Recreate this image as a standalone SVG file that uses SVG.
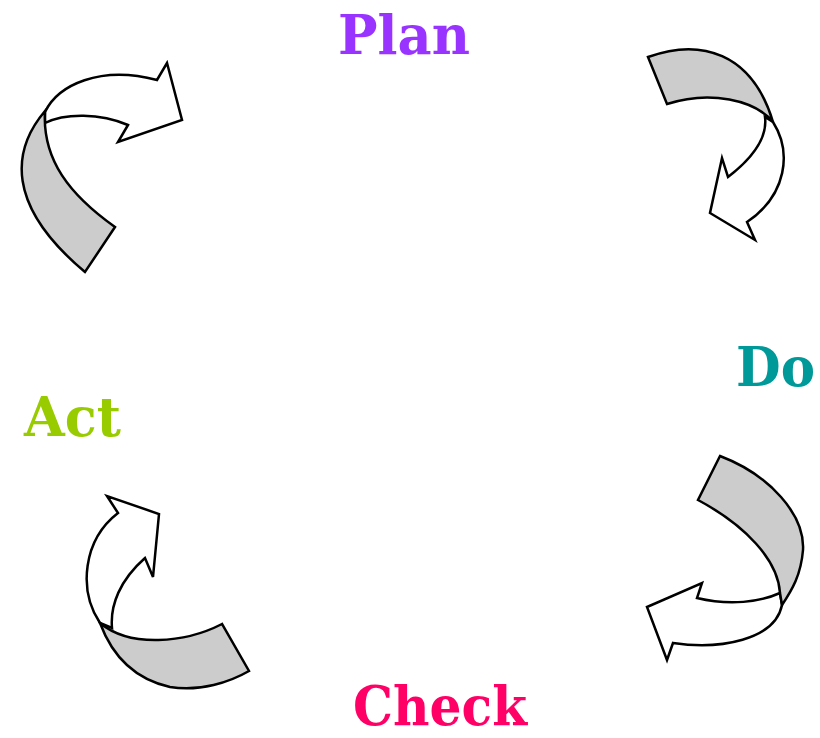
<svg xmlns="http://www.w3.org/2000/svg" width="820" height="738" viewBox="0 0 820 738">
<style>
.w{fill:#ffffff;stroke:#000;stroke-width:2.5;stroke-linejoin:miter}
.g{fill:#cccccc;stroke:#000;stroke-width:2.5;stroke-linejoin:miter}
.t{font-family:"DejaVu Serif","Liberation Serif",serif;font-weight:bold;font-size:54px}
</style>
<rect width="820" height="738" fill="#ffffff"/>
<g id="connectors">
<g id="arrow-act-plan">
<path class="w" d="M45,112 C58,85 100,65 157,80 L167,63 L182,120 L118,142 L128,125 C100,113 65,113 45,123 Z"/>
<path class="g" d="M45,111 C12,150 5,205 85,272 L115,227 C70,195 42,160 45,111 Z"/>
</g>
<g id="arrow-plan-do">
<path class="w" d="M773,122 C792,152 787,195 747,222 L755,240 L710,213 L722,158 L728,177 C750,160 768,140 765,117 Z"/>
<path class="g" d="M648,57 C700,38 752,52 773,122 C755,100 710,90 667,104 Z"/>
</g>
<g id="arrow-do-check">
<path class="w" d="M782,605 C775,640 720,650 673,643 L667,660 L647,607 L702,583 L697,598 C730,606 760,602 780,593 Z"/>
<path class="g" d="M720,456 C770,475 805,515 803,550 C801,575 792,590 782,605 L780,593 C778,560 745,525 698,500 Z"/>
</g>
<g id="arrow-check-act">
<path class="w" d="M100,623 C78,590 83,540 118,513 L107,496 L159,514 L153,577 L145,558 C120,580 110,605 112,628 Z"/>
<path class="g" d="M100,623 C110,650 130,678 170,687 C200,692 230,682 249,671 L222,624 C185,643 130,648 100,623 Z"/>
</g>
</g>
<g id="plan"><text class="t" x="338" y="54" fill="#9933ff" textLength="132" lengthAdjust="spacingAndGlyphs">Plan</text></g>
<g id="do"><text class="t" x="736" y="386" fill="#009999" textLength="79" lengthAdjust="spacingAndGlyphs">Do</text></g>
<g id="check"><text class="t" x="353" y="725" fill="#ff0066" textLength="174" lengthAdjust="spacingAndGlyphs">Check</text></g>
<g id="act"><text class="t" x="24" y="436" fill="#99cc00" textLength="97" lengthAdjust="spacingAndGlyphs">Act</text></g>
</svg>
